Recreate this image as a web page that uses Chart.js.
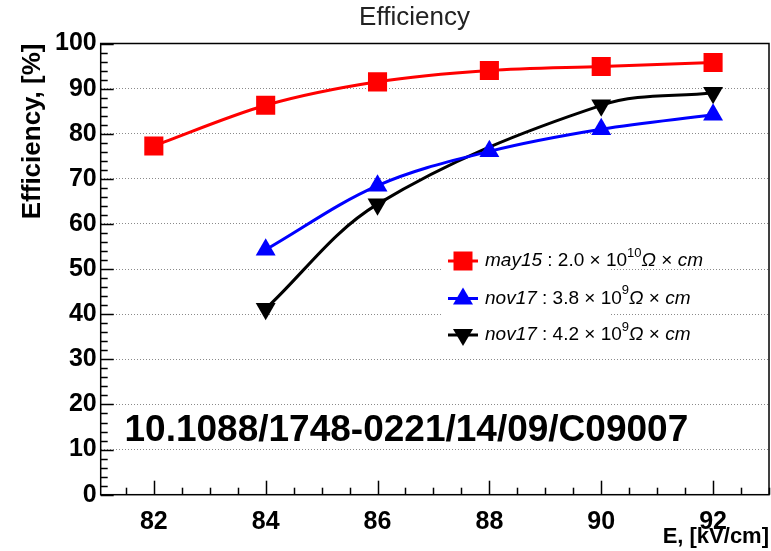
<!DOCTYPE html>
<html>
<head>
<meta charset="utf-8">
<title>Efficiency</title>
<script src="https://cdn.jsdelivr.net/npm/chart.js@4"></script>
<style>
  html, body { margin: 0; padding: 0; background: #fff; }
  #wrap { width: 771px; height: 551px; }
</style>
</head>
<body>
<div id="wrap"><canvas id="effChart" width="771" height="551"></canvas></div>
<script>
// data
const energyMay15 = [82, 84, 86, 88, 90, 92];
const effMay15 = [77.3, 86.3, 91.5, 94.0, 94.9, 95.8];
const energyNov17a = [84, 86, 88, 90, 92];
const effNov17a = [54.3, 68.5, 76.1, 81.0, 84.2];
const energyNov17b = [84, 86, 90, 92];
const effNov17b = [41.2, 64.4, 86.3, 89.1];

const xTicks = [82, 84, 86, 88, 90, 92];
const yTicks = [0, 10, 20, 30, 40, 50, 60, 70, 80, 90, 100];

const legendNames = ["may15", "nov17", "nov17"];
const legendValues = ["2.0", "3.8", "4.2"];
const legendExps = ["10", "9", "9"];

const FONT = "'Liberation Sans', Arial, Helvetica, sans-serif";

function toPoints(xs, ys) {
    return xs.map((x, i) => ({ x: x, y: ys[i] }));
}

// small marker drawer for the legend
function drawMarker(ctx, style, color, x, y) {
    ctx.save();
    ctx.fillStyle = color;
    ctx.beginPath();
    if (style === "rect") {
        ctx.rect(x - 9.5, y - 9.5, 19, 19);
    } else if (style === "up") {
        ctx.moveTo(x, y - 11);
        ctx.lineTo(x + 10, y + 6);
        ctx.lineTo(x - 10, y + 6);
    } else {
        ctx.moveTo(x, y + 11);
        ctx.lineTo(x + 10, y - 6);
        ctx.lineTo(x - 10, y - 6);
    }
    ctx.closePath();
    ctx.fill();
    ctx.restore();
}

const rootDecor = {
    id: "rootDecor",
    beforeDatasetsDraw(chart) {
        const ctx = chart.ctx;
        const xs = chart.scales.x, ys = chart.scales.y;
        const a = chart.chartArea;
        ctx.save();
        ctx.strokeStyle = "#000";
        ctx.lineWidth = 1.5;
        // y ticks (inside), minor every 2
        for (let v = 0; v <= 100; v += 2) {
            const py = Math.round(ys.getPixelForValue(v)) + 0.5;
            const len = (v % 10 === 0) ? 13 : 7;
            ctx.beginPath();
            ctx.moveTo(a.left, py);
            ctx.lineTo(a.left + len, py);
            ctx.stroke();
        }
        // x ticks (inside), minor every 0.5
        for (let v = 81.5; v <= 93; v += 0.5) {
            const px = Math.round(xs.getPixelForValue(v)) + 0.5;
            const len = (v % 2 === 0) ? 14 : 7;
            ctx.beginPath();
            ctx.moveTo(px, a.bottom);
            ctx.lineTo(px, a.bottom - len);
            ctx.stroke();
        }
        // frame
        ctx.strokeRect(a.left, a.top, a.right - a.left, a.bottom - a.top);

        // legend background
        ctx.fillStyle = "#fff";
        ctx.fillRect(443, 244, 167, 104);
        ctx.restore();
    },
    afterDatasetsDraw(chart) {
        const ctx = chart.ctx;
        ctx.save();
        // title
        ctx.fillStyle = "#222";
        ctx.font = "26px " + FONT;
        ctx.textAlign = "center";
        ctx.textBaseline = "middle";
        ctx.fillText("Efficiency", 414.5, 18);

        // legend
        const rows = [261, 298.5, 335];
        const styles = ["rect", "up", "down"];
        chart.data.datasets.forEach((ds, i) => {
            const y = rows[i];
            ctx.strokeStyle = ds.borderColor;
            ctx.lineWidth = 3;
            ctx.beginPath();
            ctx.moveTo(448, y);
            ctx.lineTo(478, y);
            ctx.stroke();
            drawMarker(ctx, styles[i], ds.borderColor, 463, y);

            ctx.fillStyle = "#000";
            ctx.textAlign = "left";
            ctx.textBaseline = "middle";
            let x = 485;
            const seg = (txt, font, dy) => {
                ctx.font = font;
                ctx.fillText(txt, x, y + (dy || 0));
                x += ctx.measureText(txt).width;
            };
            seg(legendNames[i], "italic 19px " + FONT);
            seg(" : " + legendValues[i] + " \u00d7 10", "19px " + FONT);
            seg(legendExps[i], "13px " + FONT, -8);
            seg("\u03a9", "italic 19px " + FONT);
            seg(" \u00d7 ", "19px " + FONT);
            seg("cm", "italic 19px " + FONT);
        });

        // DOI stamp
        ctx.fillStyle = "#000";
        ctx.font = "bold 37px " + FONT;
        ctx.textAlign = "left";
        ctx.textBaseline = "alphabetic";
        ctx.fillText("10.1088/1748-0221/14/09/C09007", 124.5, 441);
        ctx.restore();
    }
};

const ctx = document.getElementById("effChart").getContext("2d");
new Chart(ctx, {
    type: "scatter",
    data: {
        datasets: [
            {
                label: "may15",
                data: toPoints(energyMay15, effMay15),
                showLine: true,
                borderColor: "#ff0000",
                backgroundColor: "#ff0000",
                borderWidth: 3,
                tension: 0.3,
                pointStyle: "rect",
                pointRadius: 13.5,
                pointBorderWidth: 0
            },
            {
                label: "nov17 3.8",
                data: toPoints(energyNov17a, effNov17a),
                showLine: true,
                borderColor: "#0000ff",
                backgroundColor: "#0000ff",
                borderWidth: 3,
                tension: 0.35,
                pointStyle: "triangle",
                pointRadius: 11.5,
                pointBorderWidth: 0
            },
            {
                label: "nov17 4.2",
                data: toPoints(energyNov17b, effNov17b),
                showLine: true,
                borderColor: "#000000",
                backgroundColor: "#000000",
                borderWidth: 3,
                tension: 0.35,
                pointStyle: "triangle",
                rotation: 180,
                pointRadius: 11.5,
                pointBorderWidth: 0
            }
        ]
    },
    options: {
        responsive: false,
        animation: false,
        devicePixelRatio: 1,
        layout: { autoPadding: false, padding: { top: 43.5, right: 2, left: 0, bottom: 0 } },
        plugins: {
            legend: { display: false },
            title: { display: false },
            tooltip: { enabled: false }
        },
        scales: {
            x: {
                type: "linear",
                min: 81.05,
                max: 93,
                afterBuildTicks: scale => { scale.ticks = xTicks.map(v => ({ value: v })); },
                afterFit: scale => {
                    scale.height = 56.3;
                    scale.paddingLeft = 0;
                    scale.paddingRight = 0;
                },
                grid: { display: false, drawTicks: false },
                border: { display: false },
                ticks: {
                    padding: 12,
                    color: "#000",
                    font: { family: FONT, size: 25, weight: "bold" }
                },
                title: {
                    display: true,
                    text: "E, [kV/cm]",
                    align: "end",
                    color: "#000",
                    padding: { top: 0, bottom: 1 },
                    font: { family: FONT, size: 22, weight: "bold" }
                }
            },
            y: {
                min: 0,
                max: 100,
                afterBuildTicks: scale => { scale.ticks = yTicks.map(v => ({ value: v })); },
                afterFit: scale => { scale.width = 100.7; },
                grid: { color: "#8a8a8a", lineWidth: 1, drawTicks: false },
                border: { display: false, dash: [1, 2] },
                ticks: {
                    padding: 4,
                    color: "#000",
                    font: { family: FONT, size: 25, weight: "bold" }
                },
                title: {
                    display: true,
                    text: "Efficiency, [%]",
                    align: "end",
                    color: "#000",
                    padding: { top: 17, bottom: 0 },
                    font: { family: FONT, size: 26, weight: "bold" }
                }
            }
        }
    },
    plugins: [rootDecor]
});
</script>
</body>
</html>
